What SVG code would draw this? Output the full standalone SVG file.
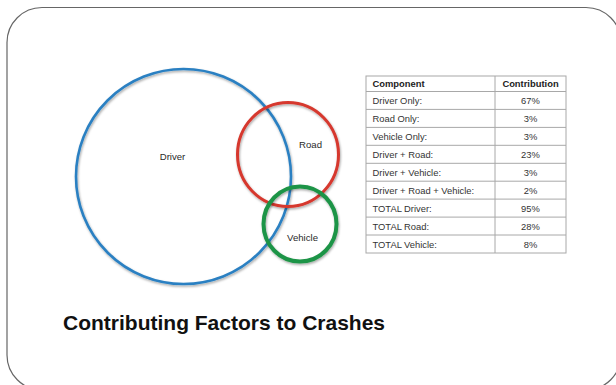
<svg xmlns="http://www.w3.org/2000/svg" width="616" height="385" viewBox="0 0 616 385">
<style>
.frame{fill:#fff;stroke:#666;stroke-width:1.2}
.ring{fill:none}
.lbl{font-family:"Liberation Sans",Arial,sans-serif;font-size:9.6px;fill:#2a2a2a;text-anchor:middle}
.cell{font-family:"Liberation Sans",Arial,sans-serif;font-size:9.4px;fill:#333}
.hdr{font-weight:bold;fill:#222}
.val{text-anchor:middle}
.grid{stroke:#a8a8a8;stroke-width:1;fill:none}
.title{font-family:"Liberation Sans",Arial,sans-serif;font-size:21px;font-weight:bold;fill:#111}
</style>
<defs>
<filter id="sh" x="-10%" y="-10%" width="120%" height="120%">
<feDropShadow dx="0.8" dy="1.5" stdDeviation="0.8" flood-color="#000" flood-opacity="0.35"/>
</filter>
</defs>
<rect class="frame" x="7" y="7.5" width="614" height="382.5" rx="35" ry="35"/>
<g id="driver">
<circle class="ring" cx="183.5" cy="176.5" r="107.5" stroke="#2c80c2" stroke-width="2.6" filter="url(#sh)"/>
<text class="lbl" x="172.5" y="159.5">Driver</text>
</g>
<g id="road">
<ellipse class="ring" cx="288" cy="154.5" rx="50.5" ry="52" stroke="#d6372d" stroke-width="3" filter="url(#sh)"/>
<text class="lbl" x="310.5" y="147.5">Road</text>
</g>
<g id="vehicle">
<ellipse class="ring" cx="300" cy="224" rx="36.5" ry="37.5" stroke="#1e9446" stroke-width="4" filter="url(#sh)"/>
<text class="lbl" x="302.5" y="240.5">Vehicle</text>
</g>
<g id="connectors"></g>
<g id="table">
<rect class="grid" x="366" y="76" width="200" height="177"/>
<line class="grid" x1="495" y1="76" x2="495" y2="253"/>
<line class="grid" x1="366" y1="91.5" x2="566" y2="91.5"/>
<line class="grid" x1="366" y1="109.4" x2="566" y2="109.4"/>
<line class="grid" x1="366" y1="127.4" x2="566" y2="127.4"/>
<line class="grid" x1="366" y1="145.3" x2="566" y2="145.3"/>
<line class="grid" x1="366" y1="163.3" x2="566" y2="163.3"/>
<line class="grid" x1="366" y1="181.2" x2="566" y2="181.2"/>
<line class="grid" x1="366" y1="199.1" x2="566" y2="199.1"/>
<line class="grid" x1="366" y1="217.1" x2="566" y2="217.1"/>
<line class="grid" x1="366" y1="235" x2="566" y2="235"/>
<text class="cell hdr" x="372.5" y="87.3">Component</text>
<text class="cell hdr val" x="530.5" y="87.3">Contribution</text>
<text class="cell" x="372.5" y="104.1">Driver Only:</text>
<text class="cell val" x="530.5" y="104.1">67%</text>
<text class="cell" x="372.5" y="122">Road Only:</text>
<text class="cell val" x="530.5" y="122">3%</text>
<text class="cell" x="372.5" y="140">Vehicle Only:</text>
<text class="cell val" x="530.5" y="140">3%</text>
<text class="cell" x="372.5" y="157.9">Driver + Road:</text>
<text class="cell val" x="530.5" y="157.9">23%</text>
<text class="cell" x="372.5" y="175.9">Driver + Vehicle:</text>
<text class="cell val" x="530.5" y="175.9">3%</text>
<text class="cell" x="372.5" y="193.8">Driver + Road + Vehicle:</text>
<text class="cell val" x="530.5" y="193.8">2%</text>
<text class="cell" x="372.5" y="211.7">TOTAL Driver:</text>
<text class="cell val" x="530.5" y="211.7">95%</text>
<text class="cell" x="372.5" y="229.7">TOTAL Road:</text>
<text class="cell val" x="530.5" y="229.7">28%</text>
<text class="cell" x="372.5" y="247.6">TOTAL Vehicle:</text>
<text class="cell val" x="530.5" y="247.6">8%</text>
</g>
<g id="title">
<text class="title" x="63" y="330">Contributing Factors to Crashes</text>
</g>
</svg>
